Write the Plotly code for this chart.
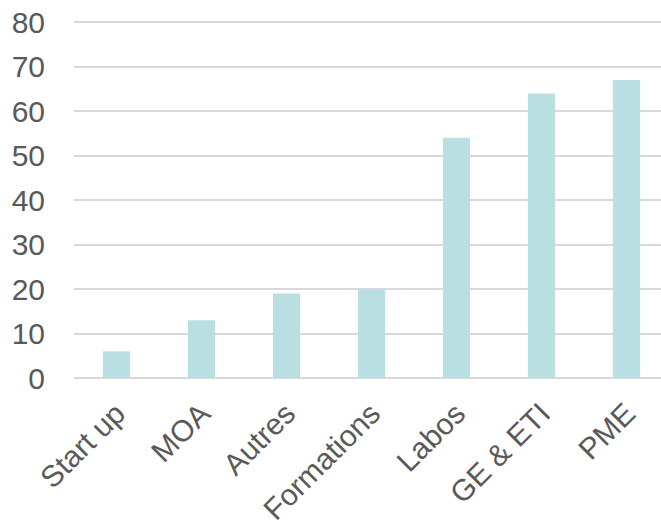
import plotly.graph_objects as go

categories = ["Start up", "MOA", "Autres", "Formations", "Labos", "GE & ETI", "PME"]
values = [6, 13, 19, 20, 54, 64, 67]
y_ticks = [0, 10, 20, 30, 40, 50, 60, 70, 80]

fig = go.Figure(go.Bar(x=categories, y=values, marker=dict(color="#BADFE2", line=dict(width=0))))

fig.update_layout(
    width=661, height=530,
    margin=dict(l=74, r=0, t=20, b=152),
    plot_bgcolor="white", paper_bgcolor="white",
    bargap=0.68,
    showlegend=False,
    font=dict(family="Liberation Sans, Arial, sans-serif", size=30, color="#595959"),
)
fig.update_xaxes(
    range=[-0.5, 6.406], tickangle=-45, showgrid=False, automargin=False,
    showline=False, ticks="", ticklabelstandoff=11,
    tickfont=dict(size=30),
)
fig.update_yaxes(
    range=[0, 80.5], tickvals=y_ticks, showgrid=True, gridcolor="#D9D9D9", gridwidth=1.5,
    zeroline=True, zerolinecolor="#D9D9D9", zerolinewidth=1.5, automargin=False,
    showline=False, ticks="", ticklabelstandoff=28,
)

fig.write_html("out.html")
